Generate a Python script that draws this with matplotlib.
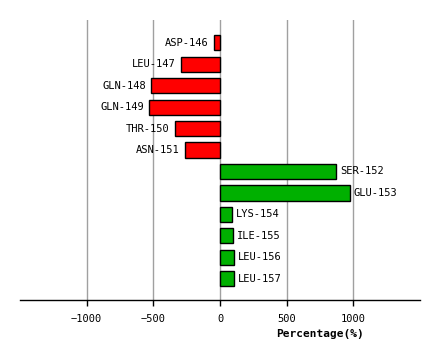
import matplotlib
matplotlib.use('Agg')
from matplotlib import pyplot as plt
import numpy as np

residues = ['ASP-146', 'LEU-147', 'GLN-148', 'GLN-149', 'THR-150', 'ASN-151',
            'SER-152', 'GLU-153', 'LYS-154', 'ILE-155', 'LEU-156', 'LEU-157']
percentages = [-45, -293, -515, -530, -335, -260,
               868, 973, 88, 95, 103, 103]
xticks = [-1000, -500, 0, 500, 1000]

plt.rcParams['font.family'] = ['DejaVu Sans Mono']

fig = plt.figure(figsize=(4.4, 3.6), dpi=100)
ax = fig.add_axes([20/440, 60/360, 400/440, 280/360])

ys = np.arange(len(residues))
colors = ['#ff0000' if v < 0 else '#00b000' for v in percentages]
ax.barh(ys, percentages, height=0.7, color=colors, edgecolor='black',
        linewidth=1, zorder=3)

for y, v, name in zip(ys, percentages, residues):
    if v < 0:
        ax.annotate(name, (v, y), xytext=(-4, 0), textcoords='offset points',
                    ha='right', va='center', fontsize=7.5)
    else:
        ax.annotate(name, (v, y), xytext=(3, 0), textcoords='offset points',
                    ha='left', va='center', fontsize=7.5)

ax.set_xlim(-1500, 1500)
ax.set_ylim(11.98, -1.05)
ax.set_xticks(xticks)
ax.set_xticklabels([str(t).replace('-', '\u2212') for t in xticks], fontsize=7.5)
ax.set_yticks([])
ax.grid(axis='x', color='#a0a0a0', linewidth=1, zorder=0)
for s in ['top', 'left', 'right']:
    ax.spines[s].set_visible(False)
ax.spines['bottom'].set_linewidth(1)
ax.tick_params(axis='x', length=4, width=1, pad=6)

ax.set_xlabel('Percentage(%)', fontsize=8, fontweight='bold')
ax.xaxis.set_label_coords(0.75, -0.105)

fig.savefig('out.png', dpi=100)
